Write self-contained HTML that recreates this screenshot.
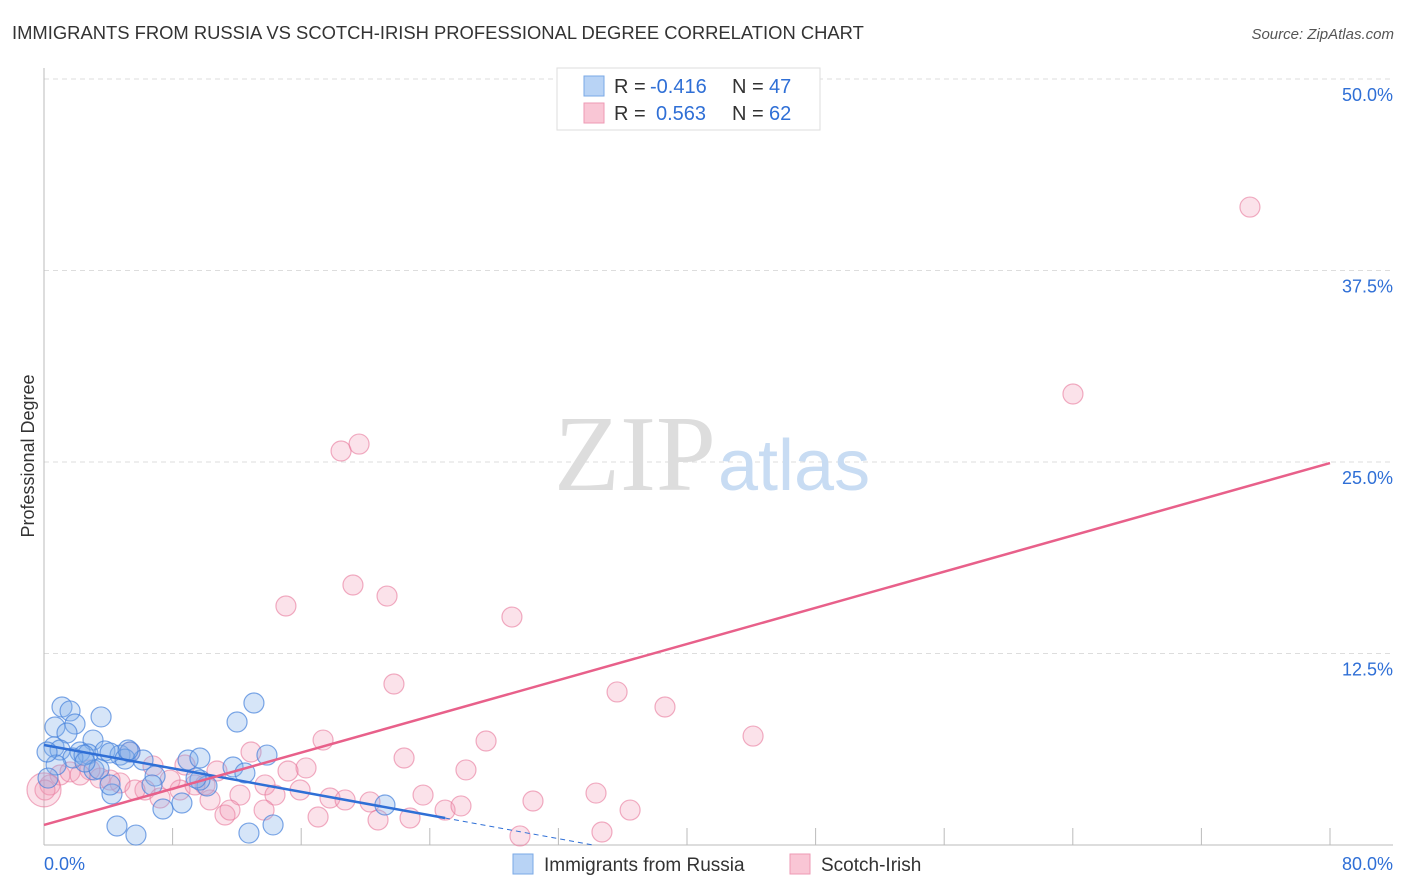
<!DOCTYPE html>
<html><head><meta charset="utf-8"><style>
body{margin:0;background:#fff;font-family:"Liberation Sans",sans-serif}
#wrap{position:relative;width:1406px;height:892px;overflow:hidden}
</style></head><body>
<div id="wrap">
<svg id="svg" width="1406" height="892" xmlns="http://www.w3.org/2000/svg">
<text x="12" y="39" font-size="18.4" fill="#333">IMMIGRANTS FROM RUSSIA VS SCOTCH-IRISH PROFESSIONAL DEGREE CORRELATION CHART</text>
<text x="1394" y="39" font-size="15" fill="#555" font-style="italic" text-anchor="end">Source: ZipAtlas.com</text>
<text x="34" y="456" font-size="18" fill="#333" text-anchor="middle" transform="rotate(-90 34 456)">Professional Degree</text>
<g id="grid"></g>
<text x="716" y="490" font-size="108" fill="#ddd" text-anchor="end" font-family="Liberation Serif">ZIP</text>
<text x="718" y="490" font-size="72" fill="#c8dcf3">atlas</text>
<g id="pts"></g>
<g id="lines"></g>
<g>
<rect x="557" y="68" width="263" height="62" fill="#fff" stroke="#ddd"/>
<rect x="584" y="76" width="20" height="20" fill="#b8d3f5" stroke="#7aa8e6"/>
<rect x="584" y="103" width="20" height="20" fill="#f9c6d5" stroke="#ee9ab4"/>
<text y="93" font-size="20" fill="#333"><tspan x="614">R =</tspan><tspan x="650" fill="#2f6fd6">-0.416</tspan><tspan x="732">N =</tspan><tspan x="769" fill="#2f6fd6">47</tspan></text>
<text y="120" font-size="20" fill="#333"><tspan x="614">R =</tspan><tspan x="656" fill="#2f6fd6">0.563</tspan><tspan x="732">N =</tspan><tspan x="769" fill="#2f6fd6">62</tspan></text>
</g>
<g>
<rect x="513" y="854" width="20" height="20" fill="#b8d3f5" stroke="#7aa8e6"/>
<text x="544" y="871" font-size="19" fill="#333">Immigrants from Russia</text>
<rect x="790" y="854" width="20" height="20" fill="#f9c6d5" stroke="#ee9ab4"/>
<text x="821" y="871" font-size="19" fill="#333">Scotch-Irish</text>
</g>
<text x="44" y="870" font-size="18" fill="#2f6fd6">0.0%</text>
<text x="1393" y="870" font-size="18" fill="#2f6fd6" text-anchor="end">80.0%</text>
</svg>
</div>
<script>
const yTicks=[12.5,25,37.5,50];
const yTickLabels=["12.5%","25.0%","37.5%","50.0%"];
const xTickVals=[0,8,16,24,32,40,48,56,64,72,80];
const blueX=[1.12,1.62,0.68,1.93,1.43,3.55,3.05,0.62,2.24,2.74,3.79,4.73,5.35,4.11,1.00,3.11,4.23,6.91,6.72,8.58,7.40,8.96,9.70,10.14,9.70,12.01,13.06,11.76,12.50,13.87,4.54,5.72,12.75,14.25,21.21,5.04,3.42,1.80,2.49,0.75,0.25,6.16,9.46,4.11,0.19,2.55,5.23];
const blueY=[9.01,8.75,7.70,7.90,7.31,8.36,6.85,6.40,6.07,5.94,6.14,5.87,6.07,6.01,6.20,4.90,3.33,4.50,3.92,2.74,2.35,5.55,5.68,3.85,4.24,8.03,9.27,5.09,4.70,5.87,1.24,0.65,0.78,1.31,2.61,5.61,4.96,5.68,5.87,5.22,4.37,5.55,4.37,3.92,6.07,5.42,6.20];
const pinkX=[75.02,64.01,18.48,19.60,19.22,21.34,15.05,29.11,21.77,35.65,38.63,44.11,17.36,27.50,12.88,22.40,16.30,15.18,26.25,10.76,8.77,6.78,5.35,1.00,0.37,0.06,1.62,3.48,4.73,6.28,7.22,8.46,9.39,10.33,11.26,12.19,13.75,14.37,17.05,17.79,18.73,20.28,20.78,22.77,23.58,24.95,25.94,30.42,34.34,36.46,34.71,29.61,2.86,5.66,7.84,10.02,11.57,13.69,15.93,4.11,2.24,0];
const pinkY=[41.64,29.44,25.72,26.17,16.97,16.25,15.60,14.88,10.51,9.99,9.01,7.11,6.85,6.79,6.07,5.68,5.03,4.83,4.90,4.83,5.22,5.16,6.07,4.57,3.92,3.59,4.77,4.37,4.05,3.59,3.07,3.59,3.92,2.94,1.96,3.26,3.92,3.26,1.83,3.07,2.94,2.81,1.63,1.76,3.26,2.28,2.55,2.87,3.39,2.28,0.85,0.59,4.90,3.59,4.24,3.92,2.28,2.28,3.59,4.24,4.57,3.6];
const blueTrend=[6.53,1.76];
const blueTrendEnd=24.95;
const pinkTrend=[1.31,24.93];
const NS='http://www.w3.org/2000/svg';
const X=v=>44+v/80*1286;
const Y=v=>845-v*15.32;
function mk(t,a,p){const e=document.createElementNS(NS,t);for(const k in a)e.setAttribute(k,a[k]);p.appendChild(e);return e;}
const grid=document.getElementById('grid');
yTicks.forEach((t,i)=>{
 const l=mk('line',{x1:44,x2:1393,y1:Y(t),y2:Y(t),stroke:'#ddd','stroke-dasharray':'5,4'},grid);
 
 
 const tx=mk('text',{x:1393,y:Y(t)+22,'font-size':18,fill:'#2f6fd6','text-anchor':'end'},grid);
 tx.textContent=yTickLabels[i];
 
 
});
const ax=mk('line',{x1:44,x2:44,y1:68,y2:845,stroke:'#bbb'},grid);


const bx=mk('line',{x1:44,x2:1393,y1:845,y2:845,stroke:'#bbb'},grid);


xTickVals.forEach(v=>{
 const t=mk('line',{x1:X(v),x2:X(v),y1:828,y2:845,stroke:'#bbb'},grid);
 
 
});
const pts=document.getElementById('pts');
pinkX.forEach((v,i)=>{
 const big=i===pinkX.length-1;
 const c=mk('circle',{cx:X(v),cy:Y(pinkY[i]),r:big?17:10,fill:'rgba(242,150,180,0.28)',stroke:'rgba(232,120,155,0.6)','stroke-width':1.2},pts);
 
 
});
blueX.forEach((v,i)=>{
 const c=mk('circle',{cx:X(v),cy:Y(blueY[i]),r:10,fill:'rgba(130,175,235,0.33)',stroke:'rgba(70,130,220,0.7)','stroke-width':1.2},pts);
 
 
});
const lines=document.getElementById('lines');
const slope=(blueTrend[1]-blueTrend[0])/blueTrendEnd;
const bl=mk('line',{x1:X(0),y1:Y(blueTrend[0]),x2:X(blueTrendEnd),y2:Y(blueTrend[1]),stroke:'#2f6fd6','stroke-width':2.5},lines);


const xz=-blueTrend[0]/slope;
const bd=mk('line',{x1:X(blueTrendEnd),y1:Y(blueTrend[1]),x2:X(xz),y2:Y(0),stroke:'#2f6fd6','stroke-width':1,'stroke-dasharray':'5,4'},lines);


const pl=mk('line',{x1:X(0),y1:Y(pinkTrend[0]),x2:X(80),y2:Y(pinkTrend[1]),stroke:'#e8608a','stroke-width':2.5},lines);


</script>
</body></html>
